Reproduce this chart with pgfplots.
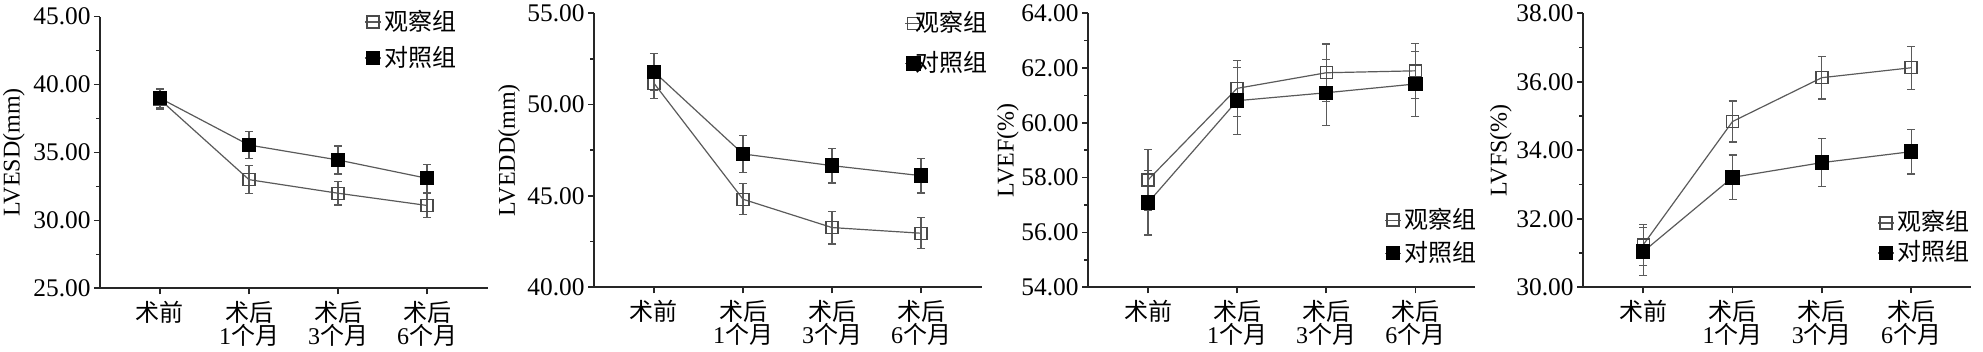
\documentclass[border=0pt]{standalone}
\usepackage{fontspec}
\setmainfont{Liberation Serif}
\newfontfamily\cjk{Noto Sans CJK SC}
\usepackage{pgfplots}
\pgfplotsset{compat=1.18}
\definecolor{lnc}{HTML}{5A5A5A}
\definecolor{obsc}{HTML}{4A4A4A}
\pgfplotsset{
  panel/.style={
    scale only axis, width=194pt, height=137pt,
    anchor=south west,
    axis lines*=left,
    axis line style={line width=0.8pt, black!85, -},
    xmin=-0.674, xmax=3.685,
    xtick={0,1,2,3},
    xticklabels={{\cjk 术前},{\cjk 术后}\\1{\cjk 个月},{\cjk 术后}\\3{\cjk 个月},{\cjk 术后}\\6{\cjk 个月}},
    xticklabel style={align=center, font=\fontsize{12}{11.5}\selectfont},
    yticklabel style={font=\fontsize{12.7}{13}\selectfont, inner sep=1.5pt},
    /pgf/number format/.cd, fixed, fixed zerofill, precision=2, assume math mode=true, /pgfplots/.cd,
    minor y tick num=1,
    tick align=outside, major tick length=3pt, minor tick length=2pt,
    tick style={line width=0.8pt, black!85},
    ylabel style={font=\fontsize{12}{12}\selectfont, anchor=center},
    legend style={draw=none, fill=none, inner sep=0pt, anchor=west,
      font=\fontsize{12}{12}\selectfont, column sep=1.5pt,
      nodes={inner sep=0pt, text height=10pt, text depth=2pt}},
    legend cell align=left,
    legend image code/.code={\draw[mark repeat=2,mark phase=2,#1] plot coordinates {(-4pt,0pt)(0pt,0pt)(4pt,0pt)};},
    error bars/error bar style={line width=0.6pt, lnc},
    error bars/error mark options={line width=0.6pt, lnc, mark size=2pt, rotate=90},
  },
  obs/.style={color=lnc, line width=0.6pt, mark=square, mark size=3pt,
    mark options={solid, line width=0.7pt, draw=obsc, fill=none},
    error bars/.cd, y dir=both, y explicit},
  ctl/.style={color=lnc, line width=0.6pt, mark=square*, mark size=3.3pt,
    mark options={solid, draw=black, fill=black},
    error bars/.cd, y dir=both, y explicit},
}
\begin{document}
\begin{tikzpicture}
% Panel 1
\begin{axis}[panel, at={(50pt,31.85pt)}, height=135.8pt,
  ymin=25, ymax=45, ytick={25,30,35,40,45},
  ylabel={LVESD(mm)}, ylabel style={at={(axis description cs:-0.222,0.5)}},
  legend style={at={(axis description cs:0.68,0.914)}, row sep=6pt}]
\addplot[obs] coordinates {(0,38.9) +- (0,0.75) (1,33.0) +- (0,1.04) (2,32.0) +- (0,0.86) (3,31.1) +- (0,0.88)};
\addlegendentry{\cjk 观察组}
\addplot[ctl] coordinates {(0,39.0) +- (0,0.72) (1,35.55) +- (0,1.02) (2,34.45) +- (0,1.03) (3,33.1) +- (0,1.02)};
\addlegendentry{\cjk 对照组}
\end{axis}
% Panel 2
\begin{axis}[panel, at={(297pt,32.35pt)},
  ymin=40, ymax=55, ytick={40,45,50,55},
  ylabel={LVEDD(mm)}, ylabel style={at={(axis description cs:-0.219,0.5)}},
  legend style={at={(axis description cs:0.80,0.89)}, row sep=8pt},
  legend image code/.code={\path (-4pt,0pt) -- (-1pt,0pt); \draw[overlay,mark repeat=2,mark phase=2,#1] plot coordinates {(-4pt,0pt)(0pt,0pt)(4pt,0pt)};}]
\addplot[obs] coordinates {(0,51.17) +- (0,0.85) (1,44.82) +- (0,0.85) (2,43.27) +- (0,0.9) (3,42.96) +- (0,0.85)};
\addlegendentry{\cjk 观察组}
\addplot[ctl] coordinates {(0,51.8) +- (0,1.0) (1,47.3) +- (0,1.0) (2,46.66) +- (0,0.95) (3,46.11) +- (0,0.95)};
\addlegendentry{\cjk 对照组}
\end{axis}
% Panel 3
\begin{axis}[panel, at={(544pt,32.35pt)}, width=193.5pt, xmax=3.67,
  ymin=54, ymax=64, ytick={54,56,58,60,62,64},
  ylabel={LVEF(\%)}, ylabel style={at={(axis description cs:-0.207,0.5)}},
  legend style={at={(axis description cs:0.765,0.185)}, row sep=4.5pt}]
\addplot[obs] coordinates {(0,57.92) +- (0,1.1) (1,61.26) +- (0,1.03) (2,61.83) +- (0,1.05) (3,61.9) +- (0,1.0)};
\addlegendentry{\cjk 观察组}
\addplot[ctl] coordinates {(0,57.09) +- (0,1.18) (1,60.81) +- (0,1.22) (2,61.1) +- (0,1.2) (3,61.42) +- (0,1.2)};
\addlegendentry{\cjk 对照组}
\end{axis}
% Panel 4
\begin{axis}[panel, at={(791.5pt,32.35pt)}, xmax=3.67,
  ymin=30, ymax=38, ytick={30,32,34,36,38},
  ylabel={LVFS(\%)}, ylabel style={at={(axis description cs:-0.212,0.5)}},
  legend style={at={(axis description cs:0.758,0.18)}, row sep=3pt}]
\addplot[obs] coordinates {(0,31.24) +- (0,0.6) (1,34.84) +- (0,0.6) (2,36.12) +- (0,0.62) (3,36.41) +- (0,0.63)};
\addlegendentry{\cjk 观察组}
\addplot[ctl] coordinates {(0,31.04) +- (0,0.7) (1,33.21) +- (0,0.65) (2,33.64) +- (0,0.7) (3,33.96) +- (0,0.65)};
\addlegendentry{\cjk 对照组}
\end{axis}
\pgfresetboundingbox
\path[use as bounding box] (0pt,0pt) rectangle (991.5pt,176pt);
\end{tikzpicture}
\end{document}
